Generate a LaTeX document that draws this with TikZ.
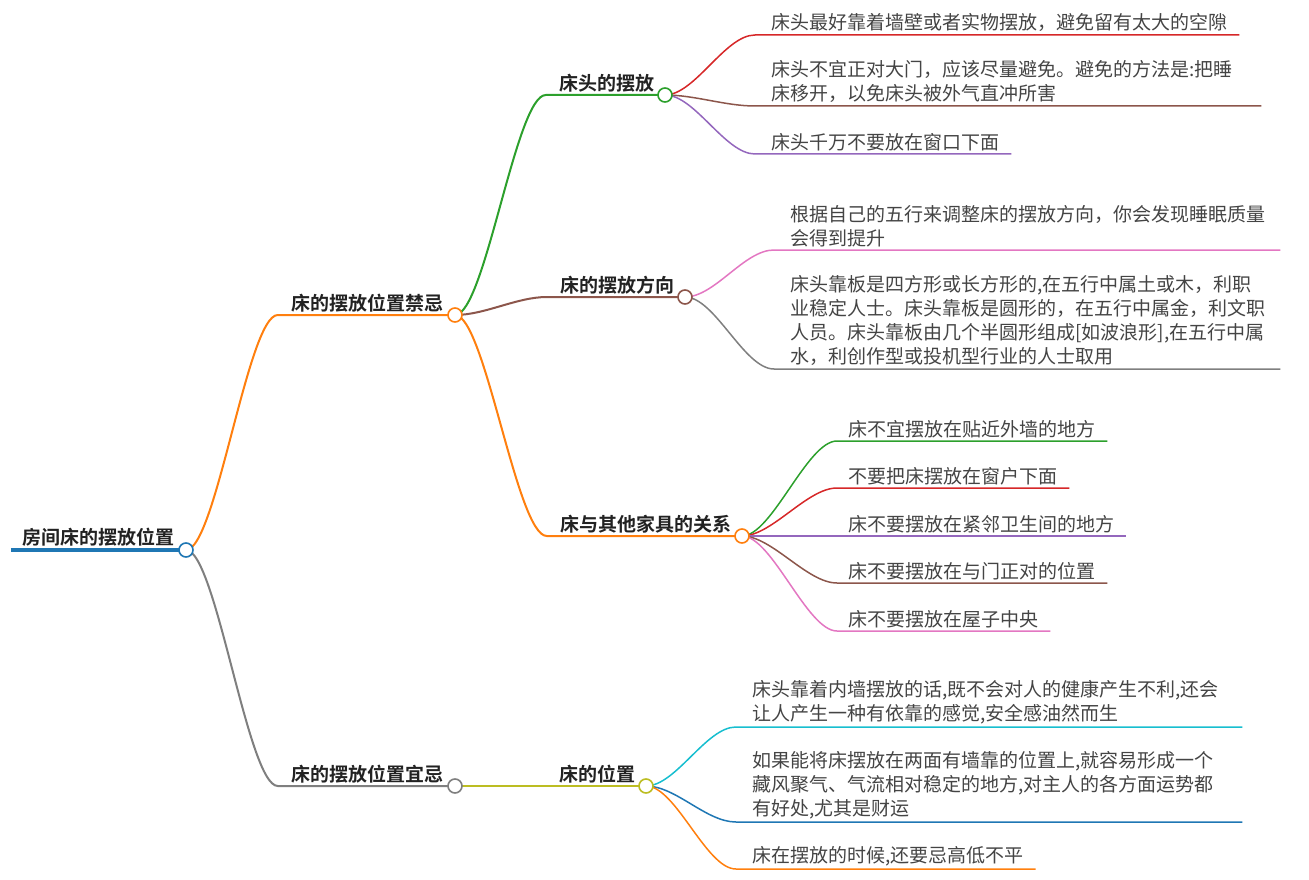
\documentclass[tikz,border=0pt]{standalone}
\usepackage{fontspec}
\setmainfont{Noto Sans CJK SC}[BoldFont={* Bold}]
\usetikzlibrary{positioning, calc, backgrounds}
\definecolor{tblue}{HTML}{1F77B4}
\definecolor{torange}{HTML}{FF7F0E}
\definecolor{tgreen}{HTML}{2CA02C}
\definecolor{tred}{HTML}{D62728}
\definecolor{tpurple}{HTML}{9467BD}
\definecolor{tbrown}{HTML}{8C564B}
\definecolor{tpink}{HTML}{E377C2}
\definecolor{tgray}{HTML}{7F7F7F}
\definecolor{tolive}{HTML}{BCBD22}
\definecolor{tcyan}{HTML}{17BECF}
\definecolor{ink}{HTML}{222222}
\definecolor{leafink}{HTML}{444444}

\begin{document}
\begin{tikzpicture}[
    x=1pt, y=-1pt,
    font=\fontsize{19}{24}\selectfont,
    knot/.style={circle, draw=#1, fill=white, line width=1.6pt, minimum size=14pt, inner sep=0pt},
    topic/.style={font=\fontsize{19}{24}\selectfont\bfseries, text=ink, inner sep=0pt},
    leaf/.style={anchor=south west, align=left, text=leafink, inner sep=0pt},
    wide/.style={text width=478pt},
    sway/.style={out=0, in=180, out distance=30pt, in distance=30pt},
    limb/.style={draw=#1, line width=2pt},
    twig/.style={draw=#1, line width=1.5pt}
  ]
  \useasboundingbox (0,0) rectangle (1309,880);

  % root
  \node[knot=tblue] (root) at (186,550) {};
  \node[topic, above left=3pt and 4pt of root.west] (roott) {房间床的摆放位置};

  % first level
  \node[knot=torange] (k1) at (455,315) {};
  \node[topic, above left=3pt and 4pt of k1.west] (k1t) {床的摆放位置禁忌};
  \node[knot=tgray] (k2) at (455,786) {};
  \node[topic, above left=3pt and 4pt of k2.west] (k2t) {床的摆放位置宜忌};

  % second level
  \node[knot=tgreen] (h1) at (665,95) {};
  \node[topic, above left=3pt and 3pt of h1.west] (h1t) {床头的摆放};
  \node[knot=tbrown] (h2) at (685,297) {};
  \node[topic, above left=3pt and 3pt of h2.west] (h2t) {床的摆放方向};
  \node[knot=torange] (h3) at (742,536) {};
  \node[topic, above left=3pt and 3pt of h3.west] (h3t) {床与其他家具的关系};
  \node[knot=tolive] (h4) at (646,786) {};
  \node[topic, above left=3pt and 3pt of h4.west] (h4t) {床的位置};

  % leaves: bed head
  \node[leaf] (a1) at (771,32) {床头最好靠着墙壁或者实物摆放，避免留有太大的空隙};
  \node[leaf, wide] (a2) at (771,103) {床头不宜正对大门，应该尽量避免。避免的方法是:把睡\\床移开，以免床头被外气直冲所害};
  \node[leaf] (a3) at (771,151) {床头千万不要放在窗口下面};

  % leaves: direction
  \node[leaf, wide] (b1) at (790,247) {根据自己的五行来调整床的摆放方向，你会发现睡眠质量\\会得到提升};
  \node[leaf, wide] (b2) at (790,366) {床头靠板是四方形或长方形的,在五行中属土或木，利职\\业稳定人士。床头靠板是圆形的，在五行中属金，利文职\\人员。床头靠板由几个半圆形组成[如波浪形],在五行中属\\水，利创作型或投机型行业的人士取用};

  % leaves: other furniture
  \node[leaf] (c1) at (848,438) {床不宜摆放在贴近外墙的地方};
  \node[leaf] (c2) at (848,485) {不要把床摆放在窗户下面};
  \node[leaf] (c3) at (848,533) {床不要摆放在紧邻卫生间的地方};
  \node[leaf] (c4) at (848,580) {床不要摆放在与门正对的位置};
  \node[leaf] (c5) at (848,628) {床不要摆放在屋子中央};

  % leaves: position
  \node[leaf, wide] (d1) at (752,724) {床头靠着内墙摆放的话,既不会对人的健康产生不利,还会\\让人产生一种有依靠的感觉,安全感油然而生};
  \node[leaf, wide] (d2) at (752,819) {如果能将床摆放在两面有墙靠的位置上,就容易形成一个\\藏风聚气、气流相对稳定的地方,对主人的各方面运势都\\有好处,尤其是财运};
  \node[leaf] (d3) at (752,866) {床在摆放的时候,还要忌高低不平};

  % connectors
  \begin{scope}[on background layer]
    \draw[tblue, line width=4pt] ($(roott.south west)+(-11,3)$) -- (root.center);
    \draw[limb=torange] (root.center) to[sway] ($(k1t.south west)+(-13,3)$) -- (k1.center);
    \draw[limb=tgray] (root.center) to[sway] ($(k2t.south west)+(-13,3)$) -- (k2.center);
    \draw[limb=tgreen] (k1.center) to[sway] ($(h1t.south west)+(-13,3)$) -- (h1.center);
    \draw[limb=tbrown] (k1.center) to[sway] ($(h2t.south west)+(-13,3)$) -- (h2.center);
    \draw[limb=torange] (k1.center) to[sway] ($(h3t.south west)+(-13,3)$) -- (h3.center);
    \draw[limb=tolive] (k2.center) -- (h4.center);
    \foreach \lf/\cl in {a1/tred, a2/tbrown, a3/tpurple}
      \draw[twig=\cl] (h1.center) to[sway] ($(\lf.south west)+(-16,3)$) -- ($(\lf.south east)+(12,3)$);
    \foreach \lf/\cl in {b1/tpink, b2/tgray}
      \draw[twig=\cl] (h2.center) to[sway] ($(\lf.south west)+(-16,3)$) -- ($(\lf.south east)+(12,3)$);
    \foreach \lf/\cl in {c1/tgreen, c2/tred, c3/tpurple, c4/tbrown, c5/tpink}
      \draw[twig=\cl] (h3.center) to[sway] ($(\lf.south west)+(-11,3)$) -- ($(\lf.south east)+(12,3)$);
    \foreach \lf/\cl in {d1/tcyan, d2/tblue, d3/torange}
      \draw[twig=\cl] (h4.center) to[sway] ($(\lf.south west)+(-16,3)$) -- ($(\lf.south east)+(12,3)$);
  \end{scope}
\end{tikzpicture}
\end{document}
